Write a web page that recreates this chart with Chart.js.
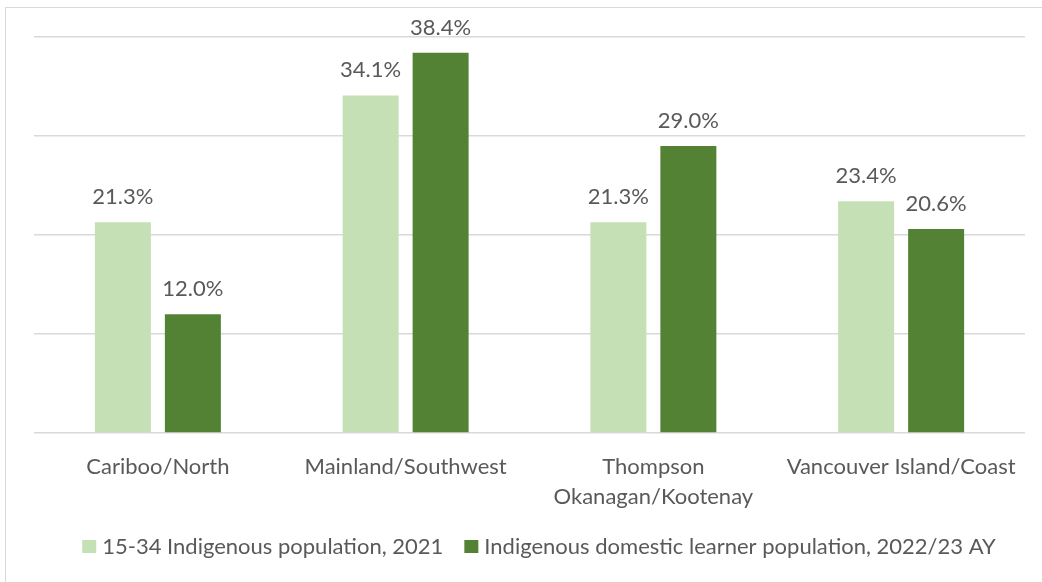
<!DOCTYPE html>
<html>
<head>
<meta charset="utf-8">
<script src="https://cdn.jsdelivr.net/npm/chart.js@4.4.1/dist/chart.umd.min.js"></script>
<style>
  html, body { margin: 0; padding: 0; background: #fff; }
  #wrap { position: relative; width: 1042px; height: 582px; overflow: hidden; }
  #frame { position: absolute; left: 5px; top: 7px; width: 1100px; height: 700px; border: 1.5px solid #d9d9d9; box-sizing: border-box; }
  canvas { position: absolute; left: 0; top: 0; }
</style>
</head>
<body>
<div id="wrap">
  <div id="frame"></div>
  <canvas id="c" width="1042" height="582"></canvas>
</div>
<script>
// Regions and the two shares (%) compared in each
const regions = [
  'Cariboo/North',
  'Mainland/Southwest',
  ['Thompson', 'Okanagan/Kootenay'],
  'Vancouver Island/Coast'
];
const population2021 = [21.3, 34.1, 21.3, 23.4];
const learners2022 = [12.0, 38.4, 29.0, 20.6];
const seriesNames = [
  '15-34 Indigenous population, 2021',
  'Indigenous domestic learner population, 2022/23 AY'
];
const seriesColors = ['#C5E0B4', '#548235'];
const yTicks = [0, 10, 20, 30, 40];

const FONT = 'Lato, "Noto Sans", sans-serif';
const TEXT = '#595959';
const FSIZE = 22;

// Percent labels above each bar
const valueLabels = {
  id: 'valueLabels',
  afterDatasetsDraw(chart) {
    const ctx = chart.ctx;
    ctx.save();
    ctx.font = FSIZE + 'px ' + FONT;
    ctx.fillStyle = TEXT;
    ctx.textAlign = 'center';
    ctx.textBaseline = 'alphabetic';
    chart.data.datasets.forEach((ds, i) => {
      chart.getDatasetMeta(i).data.forEach((bar, j) => {
        ctx.fillText(ds.data[j].toFixed(1) + '%', bar.x, bar.y - 18);
      });
    });
    ctx.restore();
  }
};

// Legend row under the axis labels, centred on the outer frame
const bottomLegend = {
  id: 'bottomLegend',
  afterDraw(chart) {
    const ctx = chart.ctx;
    ctx.save();
    ctx.font = FSIZE + 'px ' + FONT;
    const box = 14, gapText = 6, gapItem = 21;
    const items = chart.data.datasets.map(ds => ({
      label: ds.label, color: ds.backgroundColor, w: ctx.measureText(ds.label).width
    }));
    const total = items.reduce((s, it) => s + box + gapText + it.w, 0) + gapItem * (items.length - 1);
    let x = 539 - total / 2;
    const base = 554;
    items.forEach(it => {
      ctx.fillStyle = it.color;
      ctx.fillRect(x, 540, box, 13);
      ctx.fillStyle = TEXT;
      ctx.textAlign = 'left';
      ctx.textBaseline = 'alphabetic';
      ctx.fillText(it.label, x + box + gapText, base);
      x += box + gapText + it.w + gapItem;
    });
    ctx.restore();
  }
};

new Chart(document.getElementById('c'), {
  type: 'bar',
  data: {
    labels: regions,
    datasets: [
      { label: seriesNames[0], data: population2021, backgroundColor: seriesColors[0] },
      { label: seriesNames[1], data: learners2022, backgroundColor: seriesColors[1] }
    ]
  },
  options: {
    responsive: false,
    animation: false,
    events: [],
    layout: { padding: { left: 34, right: 17, top: 37, bottom: 0 } },
    categoryPercentage: 0.565,
    barPercentage: 0.8,
    plugins: { legend: { display: false }, tooltip: { enabled: false } },
    scales: {
      x: {
        grid: { display: false, drawTicks: false },
        border: { display: false },
        ticks: { color: TEXT, font: { family: FONT, size: FSIZE, lineHeight: 1.36 }, padding: 19, maxRotation: 0, autoSkip: false },
        afterFit(scale) { scale.height = 149; }
      },
      y: {
        min: yTicks[0],
        max: yTicks[yTicks.length - 1],
        afterBuildTicks(scale) { scale.ticks = yTicks.map(v => ({ value: v })); },
        grid: { color: '#d9d9d9', lineWidth: 1.5, drawTicks: false },
        border: { display: false },
        ticks: { display: false },
        afterFit(scale) { scale.width = 0; }
      }
    }
  },
  plugins: [valueLabels, bottomLegend]
});
</script>
</body>
</html>
